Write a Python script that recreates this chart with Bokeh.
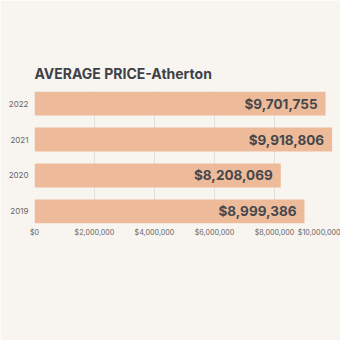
from bokeh.plotting import figure
from bokeh.models import ColumnDataSource, FactorRange, NumeralTickFormatter, FixedTicker, Range1d
from bokeh.core.properties import value
from bokeh.embed import file_html
from bokeh.resources import INLINE

years = ["2019", "2020", "2021", "2022"]
prices = [8999386, 8208069, 9918806, 9701755]
labels = ["$8,999,386", "$8,208,069", "$9,918,806", "$9,701,755"]
x_ticks = [0, 2000000, 4000000, 6000000, 8000000, 10000000]

BG = "#f8f4ef"
src = ColumnDataSource(dict(year=years, price=prices, label=labels))

p = figure(width=340, height=340, output_backend="svg", toolbar_location=None,
           y_range=FactorRange(*years, range_padding=-0.083),
           x_range=Range1d(0, 10000000),
           title="AVERAGE PRICE-Atherton",
           min_border_left=34, min_border_right=6, min_border_top=91, min_border_bottom=117)
p.background_fill_color = BG
p.border_fill_color = BG
p.outline_line_color = None

p.hbar(y="year", right="price", height=0.667, source=src, color="#edbb99", line_color=None)
p.text(x="price", y="year", text="label", source=src, x_offset=-8, text_align="right",
       text_baseline="middle", text_font=value("Inter"), text_font_style="bold",
       text_font_size="13.5px", text_color="#45474d")

p.title.text_font = "Inter"
p.title.text_font_size = "14px"
p.title.text_font_style = "bold"
p.title.text_color = "#3e4148"
p.title.align = "left"
p.title.standoff = 20

p.xaxis.ticker = FixedTicker(ticks=x_ticks)
p.xaxis.formatter = NumeralTickFormatter(format="$0,0")
p.xaxis.axis_line_color = None
p.xaxis.major_tick_line_color = None
p.xaxis.minor_tick_line_color = None
p.xaxis.major_tick_out = 0
p.xaxis.major_tick_in = 0
p.xaxis.major_label_text_font = "Inter"
p.xaxis.major_label_text_font_size = "7.2px"
p.xaxis.major_label_text_color = "#666666"
p.xaxis.major_label_standoff = 4

p.yaxis.axis_line_color = None
p.yaxis.major_tick_line_color = None
p.yaxis.minor_tick_line_color = None
p.yaxis.major_tick_out = 0
p.yaxis.major_tick_in = 0
p.yaxis.major_label_text_font = "Inter"
p.yaxis.major_label_text_font_size = "8px"
p.yaxis.major_label_text_color = "#666666"
p.yaxis.major_label_standoff = 6

p.xgrid.ticker = FixedTicker(ticks=x_ticks)
p.xgrid.grid_line_color = "#e3dfda"
p.ygrid.grid_line_color = None

open("out.html", "w").write(file_html(p, INLINE))
